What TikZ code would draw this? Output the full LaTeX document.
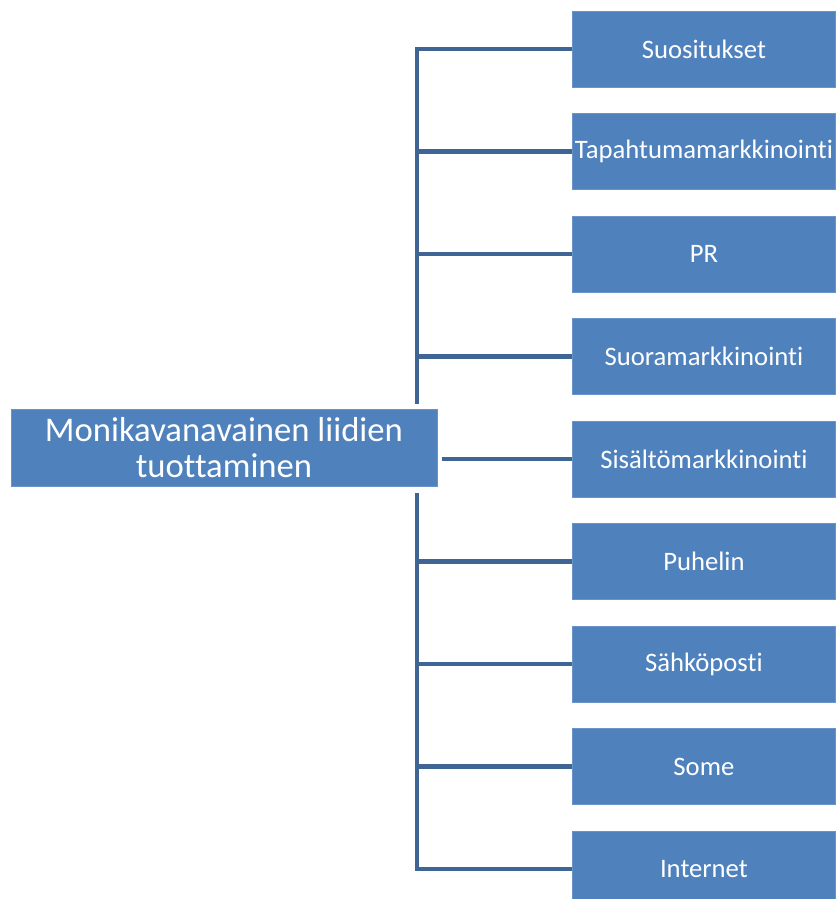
\documentclass[tikz,border=0pt]{standalone}
\usepackage{fontspec}
\setmainfont{Carlito}[Ligatures=NoCommon]
\definecolor{boxblue}{HTML}{4F81BD}
\definecolor{lineblue}{HTML}{3F6594}
\begin{document}
\begin{tikzpicture}[x=0.75pt,y=-0.75pt,
  itembox/.style={fill=boxblue,draw=boxblue!85!white,line width=0.6pt,minimum width=263*0.75pt,minimum height=76*0.75pt,inner sep=0pt,text=white,font=\fontsize{20}{22}\selectfont},
  mainbox/.style={fill=boxblue,draw=boxblue!85!white,line width=0.6pt,minimum width=426*0.75pt,minimum height=77*0.75pt,inner sep=0pt,text=white,align=center,font=\fontsize{26}{27}\selectfont},
  conn/.style={draw=lineblue,line width=3.2pt,line cap=butt,line join=miter}]
\useasboundingbox (0,0) rectangle (835,899);
\node[mainbox] (main) at (224,448) {Monikavanavainen liidien\\tuottaminen};
\foreach \t [count=\i] in {Suositukset,Tapahtumamarkkinointi,PR,Suoramarkkinointi,Sisältömarkkinointi,Puhelin,Sähköposti,Some,Internet}{
  \node[itembox,anchor=west] (b\i) at (572,{49+102.5*(\i-1)}) {\t};
}
\coordinate (top) at (417,404);
\coordinate (bot) at (417,493);
\coordinate (mid) at (442,459);
\draw[conn] (b1.west) -| (top);
\draw[conn] (b9.west) -| (bot);
\foreach \i in {2,3,4,6,7,8}{
  \draw[conn] (417,0 |- b\i.west) -- (b\i.west);
}
\draw[conn] (mid) -- (mid -| b5.west);
\end{tikzpicture}
\end{document}
